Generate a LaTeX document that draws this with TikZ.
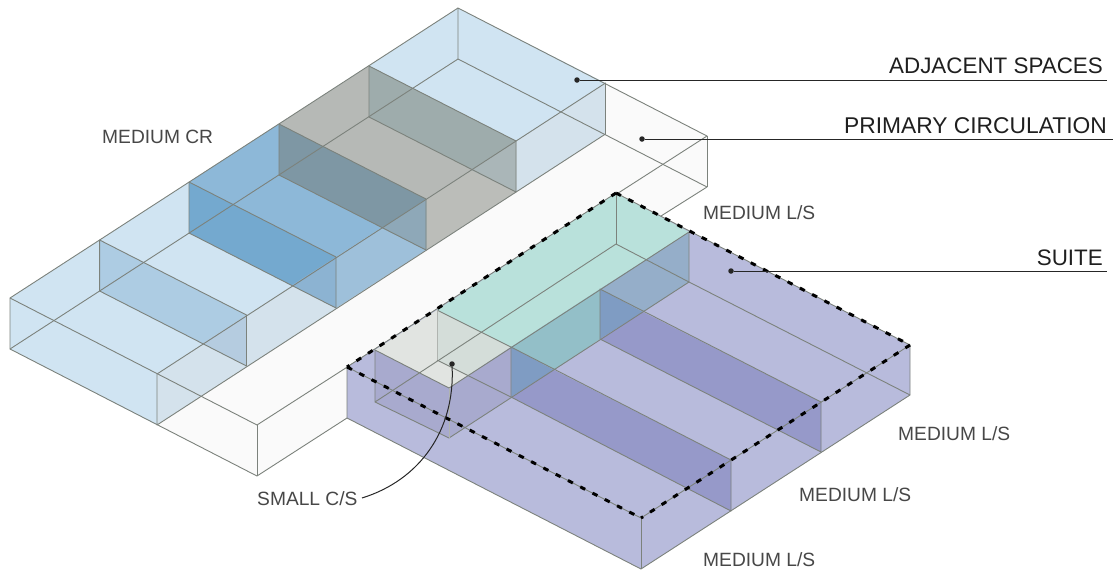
\documentclass[tikz,border=0pt]{standalone}
\usepackage{fontspec}
\setmainfont{Liberation Sans}
\definecolor{cedge}{HTML}{7C827C}
\definecolor{cblue}{HTML}{D0E4F2}
\definecolor{cstrip}{HTML}{D4E2EC}
\definecolor{cwhite}{HTML}{FAFAFA}
\definecolor{cgrey}{HTML}{B6B9B6}
\definecolor{cgreytwo}{HTML}{BBBDB9}
\definecolor{croom}{HTML}{8DB8D8}
\definecolor{croomtwo}{HTML}{9EC0DA}
\definecolor{csuite}{HTML}{B8BBDC}
\definecolor{cwall}{HTML}{9699C9}
\definecolor{cgreen}{HTML}{B9E1DB}
\definecolor{cteal}{HTML}{93BFC8}
\definecolor{csteel}{HTML}{95AEC9}
\definecolor{cover}{HTML}{7F9CC3}
\definecolor{csmall}{HTML}{A8AACE}
\tikzset{
  edge/.style={draw=cedge, line width=.9pt, line join=round},
  boundary/.style={black, line width=3pt, dash pattern=on 5.5pt off 8.3pt},
  leader/.style={draw=black!85, line width=1pt},
  pin/.style={circle, fill=black!85, inner sep=0pt, minimum size=5.5pt},
  smalltext/.style={anchor=base west, inner sep=0pt, text=black!72, font=\fontsize{19.2}{20}\selectfont},
  bigtext/.style={anchor=base east, inner sep=0pt, text=black!88, font=\fontsize{22.4}{24}\selectfont},
}
\begin{document}
\begin{tikzpicture}[x=1pt,y=-1pt]
\useasboundingbox (0,0) rectangle (1113,571);
% left block
\fill[cblue] (10,298) -- (458,8) -- (605.5,83) -- (605.5,134) -- (157,425) -- (10,349) -- cycle;
\fill[cwhite] (605.5,83) -- (707,136) -- (707,187) -- (257,476) -- (157,425) -- (605.5,134) -- cycle;
\fill[cstrip] (605.5,83) -- (605.5,134) -- (516,192) -- (516,141) -- cycle;
\fill[cgreytwo] (516,141) -- (516,192) -- (426,250) -- (426,199) -- cycle;
\fill[croomtwo] (426,199) -- (426,250) -- (336,308) -- (336,257) -- cycle;
\fill[cstrip] (336,257) -- (336,308) -- (157,425) -- (157,374) -- cycle;
\fill[cgrey] (369,66) -- (516,141) -- (426,199) -- (279,124) -- cycle;
\fill[croom] (279,124) -- (426,199) -- (336,257) -- (189,182) -- cycle;
\fill[color={rgb,255:red,158;green,172;blue,172}] (369,66) -- (516,141) -- (516,192) -- (369,117) -- cycle;
\fill[color={rgb,255:red,170;green,182;blue,184}] (516,141) -- (471,170) -- (516,192) -- cycle;
\fill[color={rgb,255:red,126;green,151;blue,164}] (279,124) -- (426,199) -- (426,250) -- (279,175) -- cycle;
\fill[color={rgb,255:red,142;green,168;blue,184}] (426,199) -- (382,228) -- (426,250) -- cycle;
\fill[color={rgb,255:red,116;green,169;blue,207}] (189,182) -- (336,257) -- (336,308) -- (189,233) -- cycle;
\fill[color={rgb,255:red,140;green,179;blue,210}] (336,257) -- (292,285) -- (336,308) -- cycle;
\fill[color={rgb,255:red,173;green,204;blue,227}] (99.6,240) -- (246.5,315) -- (246.5,366) -- (99.6,291) -- cycle;
\fill[color={rgb,255:red,181;green,204;blue,224}] (246.5,315) -- (203,343) -- (246.5,366) -- cycle;
\draw[edge] (458,8) -- (10,298) -- (10,349) -- (257,476) -- (347,418);
\draw[edge] (10,298) -- (257,425) -- (707,136) -- (458,8) -- (458,59);
\draw[edge] (10,349) -- (458,59) -- (707,187) -- (661,216);
\draw[edge] (707,136) -- (707,187);
\draw[edge] (257,425) -- (257,476);
\draw[edge] (605.5,83) -- (157,374) -- (157,425) -- (605.5,134) -- cycle;
\draw[edge] (369,66) -- (516,141) -- (516,192) -- (369,117) -- cycle;
\draw[edge] (279,124) -- (426,199) -- (426,250) -- (279,175) -- cycle;
\draw[edge] (189,182) -- (336,257) -- (336,308) -- (189,233) -- cycle;
\draw[edge] (99.6,240) -- (246.5,315) -- (246.5,366) -- (99.6,291) -- cycle;
% suite
\coordinate (suiteback) at (616,193);
\coordinate (suiteright) at (910,345);
\coordinate (suitefront) at (641,518);
\coordinate (suiteleft) at (347,367);
\fill[csuite] (suiteleft) -- (suiteback) -- (suiteright) -- (910,395) -- (641,569) -- (347,418) -- cycle;
\fill[cgreen] (437,310) -- (616,193) -- (689,232) -- (511,347) -- cycle;
\fill[cteal] (511,347) -- (600,289) -- (600,339) -- (554,370) -- cycle;
\fill[csteel] (600,289) -- (689,232) -- (689,282) -- (643,312) -- cycle;
\fill[cover] (600,289) -- (643,312) -- (600,339) -- cycle;
\fill[cover] (511,347) -- (554,370) -- (511,397) -- cycle;
\fill[cwall] (643,312) -- (821,402) -- (821,452) -- (600,339) -- cycle;
\fill[cwall] (554,370) -- (731,460) -- (731,511) -- (511,397) -- cycle;
% small room
\fill[color={rgb,255:red,225;green,228;blue,225}] (375,350) -- (437,310) -- (511,347) -- (449,388) -- cycle;
\fill[color={rgb,255:red,212;green,221;blue,217}] (437,310) -- (511,347) -- (468,375.5) -- (437,360) -- cycle;
\fill[csmall] (375,350) -- (449,388) -- (511,347) -- (511,397) -- (449,438) -- (375,402) -- cycle;
\draw[edge] (616,193) -- (616,244);
\draw[edge] (616,244) -- (375,402) -- (449,438) -- (689,282) -- (689,232) -- (449,388) -- (375,350) -- (375,402);
\draw[edge] (437,310) -- (511,347) -- (511,397);
\draw[edge] (437,360) -- (511,397);
\draw[edge,cedge!60] (437,310) -- (437,360);
\draw[edge,cedge!60] (449,388) -- (449,438);
\draw[edge] (616,244) -- (689,282) -- (910,395);
\draw[edge] (600,289) -- (600,339) -- (821,452) -- (821,402) -- cycle;
\draw[edge] (511,347) -- (731,460) -- (731,511) -- (511,397);
\draw[edge] (suiteleft) -- (347,418) -- (641,569) -- (910,395) -- (suiteright);
\draw[edge] (suitefront) -- (641,569);
\draw[edge] (suiteleft) -- (suiteback) -- (suiteright) -- (suitefront) -- cycle;
\draw[boundary] (suiteback) -- (suiteleft);
\draw[boundary] (suiteleft) -- (suitefront);
\draw[boundary] (suiteback) -- (suiteright);
\draw[boundary] (suiteright) -- (suitefront);
% labels
\node[smalltext] (crlabel) at (102,143) {MEDIUM CR};
\node[smalltext] (lsone) at (703,219) {MEDIUM L/S};
\node[smalltext] (lstwo) at (898,440) {MEDIUM L/S};
\node[smalltext] (lsthree) at (799,501) {MEDIUM L/S};
\node[smalltext] (lsfour) at (703,566) {MEDIUM L/S};
\node[smalltext] (cslabel) at (257,505) {SMALL C/S};
\node[bigtext] (adjlabel) at (1103,73) {ADJACENT SPACES};
\node[bigtext, font=\fontsize{22.8}{24}\selectfont] (circlabel) at (1107,133) {PRIMARY CIRCULATION};
\node[bigtext] (suitelabel) at (1103,265) {SUITE};
% leaders
\node[pin] (adjpin) at (577,80) {};
\node[pin] (circpin) at (642,139) {};
\node[pin] (suitepin) at (731,271) {};
\node[pin] (smallpin) at (452,364) {};
\coordinate (adjend) at (1107,80);
\coordinate (circend) at (1113,139);
\coordinate (suiteend) at (1107,271);
\coordinate (smallend) at (362,498);
\draw[leader] (adjpin) -- (adjend);
\draw[leader] (circpin) -- (circend);
\draw[leader] (suitepin) -- (suiteend);
\draw[leader] (smallpin) .. controls (455,430) and (420,480) .. (smallend);
\end{tikzpicture}
\end{document}
